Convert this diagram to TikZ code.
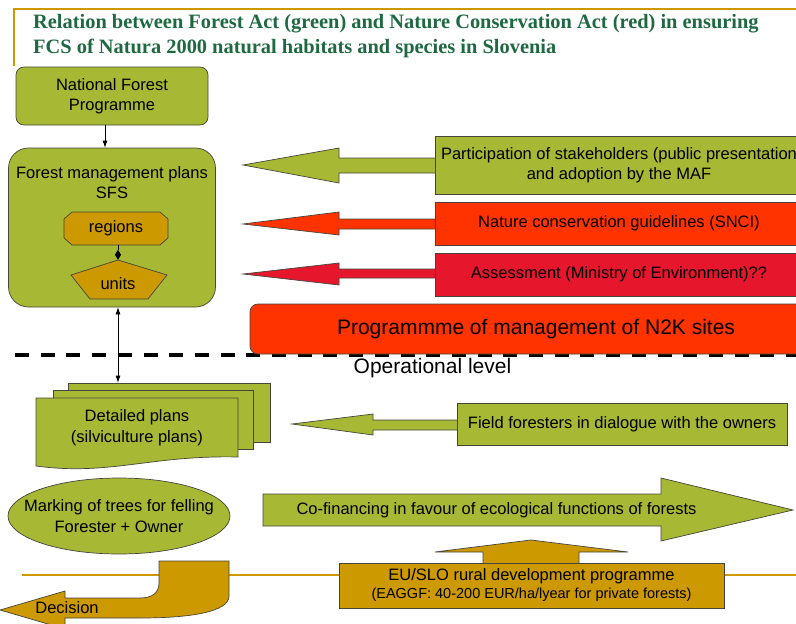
\documentclass[tikz,border=0pt]{standalone}
\usepackage{fontspec}
\setmainfont{Liberation Sans}
\newfontfamily\titlefont{Liberation Serif}
\usetikzlibrary{arrows.meta, positioning, shapes.geometric}

\definecolor{leafgreen}{RGB}{166,184,52}
\definecolor{ochre}{RGB}{204,153,0}
\definecolor{flame}{RGB}{255,51,0}
\definecolor{crimsonred}{RGB}{230,22,45}
\definecolor{titlegreen}{RGB}{30,105,65}
\definecolor{edgegray}{RGB}{70,70,60}

\tikzset{
    shapeedge/.style={draw=edgegray, line width=0.7pt},
    greenbox/.style={shapeedge, fill=leafgreen},
    ochrebox/.style={shapeedge, fill=ochre},
    flamebox/.style={shapeedge, fill=flame},
    crimsonbox/.style={shapeedge, fill=crimsonred},
    thinarrow/.style={line width=0.7pt, -{Latex[length=7pt,width=5pt]}},
    titletext/.style={anchor=base west, text=titlegreen, font=\titlefont\bfseries\fontsize{20.4}{24}\selectfont}
}

\begin{document}
\begin{tikzpicture}[x=1pt, y=-1pt, every node/.style={font=\fontsize{16.5}{20.5}\selectfont, inner sep=0pt}]
    \useasboundingbox (0,0) rectangle (796,624);

    % Title and frame
    \draw[ochre, line width=2.5pt] (14,66) -- (14,9) -- (796,9);
    \node[titletext] (title1) at (33,28) {Relation between Forest Act (green) and Nature Conservation Act (red) in ensuring};
    \node[titletext] (title2) at (33,53) {FCS of Natura 2000 natural habitats and species in Slovenia};

    % Level lines
    \draw[ochre, line width=2pt] (22,575) -- (796,575);
    \draw[line width=4pt, dash pattern=on 14pt off 11.7pt] (15,355) -- (796,355);
    \node[font=\fontsize{21}{25}\selectfont] (oplevel) at (432.5,368) {Operational level};

    % Strategic level, forestry side
    \node[greenbox, rounded corners=8pt, minimum width=192pt, minimum height=58pt, align=center] (nfp) at (112,96) {National Forest\\Programme};
    \node[greenbox, rounded corners=20pt, minimum width=207pt, minimum height=159pt] (fmp) at (112,227.5) {};
    \node[align=center] (fmplabel) at (112,182.5) {Forest management plans\\SFS};
    \filldraw[ochrebox] (72,212) -- (160,212) -- (168,219) -- (168,238) -- (160,245) -- (72,245) -- (64,238) -- (64,219) -- cycle;
    \filldraw[ochrebox] (118,260) -- (167,275) -- (148,299) -- (90,299) -- (71,275) -- cycle;
    \node[minimum width=104pt, minimum height=33pt] (regions) at (116,228.5) {regions};
    \node[minimum width=60pt, minimum height=48pt] (units) at (118,284) {units};
    \draw[line width=0.7pt, {Diamond[length=10pt,width=6pt]}-] (units.north) -- (units.north |- regions.south);
    \draw[thinarrow] ([xshift=-7pt]nfp.south) -- ([xshift=-7pt]fmp.north);

    % Left block arrows
    \filldraw[greenbox] (436,158) -- (339,158) -- (339,148) -- (243,165) -- (339,183) -- (339,173) -- (436,173) -- cycle;
    \filldraw[flamebox] (436,219) -- (339,219) -- (339,212) -- (243,224) -- (339,235) -- (339,229) -- (436,229) -- cycle;
    \filldraw[crimsonbox] (436,269) -- (339,269) -- (339,263) -- (243,274) -- (339,285) -- (339,278) -- (436,278) -- cycle;

    % Strategic level, conservation side
    \node[greenbox, minimum width=368pt, minimum height=58pt, align=center] (stake) at (619,165) {Participation of stakeholders (public presentation\\and adoption by the MAF};
    \node[flamebox, minimum width=368pt, minimum height=43pt] (guide) at (619,223.5) {Nature conservation guidelines (SNCI)};
    \node[crimsonbox, minimum width=368pt, minimum height=43pt] (assess) at (619,274.5) {Assessment (Ministry of Environment)??};
    \node[flamebox, rounded corners=8pt, minimum width=572pt, minimum height=50pt, font=\fontsize{21}{25}\selectfont] (n2k) at (536,329) {Programmme of management of N2K sites};

    % Operational level
    \node[greenbox, minimum width=202pt, minimum height=59pt] (plansback) at (169,412.5) {};
    \node[greenbox, minimum width=200pt, minimum height=59pt] (plansmid) at (153,419.5) {};
    \filldraw[greenbox] (36,398) -- (238,398) -- (238,457) .. controls (150,455) and (110,476) .. (36,466) -- cycle;
    \node[align=center] (plans) at (137,427.5) {Detailed plans\\(silviculture plans)};
    \draw[line width=0.7pt, {Latex[length=7pt,width=5pt]}-{Latex[length=7pt,width=5pt]}] (fmp.south -| units.center) -- (plansback.north -| units.center);

    \filldraw[greenbox] (458,420) -- (373,420) -- (373,414) -- (292,424) -- (373,435) -- (373,430) -- (458,430) -- cycle;
    \node[greenbox, minimum width=330pt, minimum height=42pt] (field) at (622,424) {Field foresters in dialogue with the owners};

    \filldraw[greenbox] (119,516) ellipse [x radius=111pt, y radius=38pt];
    \node[align=center] (marking) at (119,516) {Marking of trees for felling\\Forester + Owner};

    \filldraw[greenbox] (263,494) -- (661,494) -- (661,478) -- (793,510) -- (661,541) -- (661,526) -- (263,526) -- cycle;
    \node (cofin) at (496.5,510) {Co-financing in favour of ecological functions of forests};

    % Rural development and decision
    \filldraw[ochrebox] (483,565) -- (483,552) -- (435,552) -- (531,540) -- (628,552) -- (579,552) -- (579,565) -- cycle;
    \node[ochrebox, minimum width=385pt, minimum height=45pt, align=center, font=\fontsize{16.5}{18}\selectfont] (rdp) at (531.5,585.5) {EU/SLO rural development programme\\{\fontsize{14.5}{18}\selectfont (EAGGF: 40-200 EUR/ha/lyear for private forests)}};

    \filldraw[ochrebox] (159,561) -- (229,561) -- (229,596) .. controls (229,612) and (190,618) .. (140,618) -- (65,618) -- (65,629) -- (0,610) -- (65,591) -- (65,598) -- (140,598) .. controls (152,598) and (159,593) .. (159,583) -- cycle;
    \node (decision) at (67,608) {Decision};
\end{tikzpicture}
\end{document}
